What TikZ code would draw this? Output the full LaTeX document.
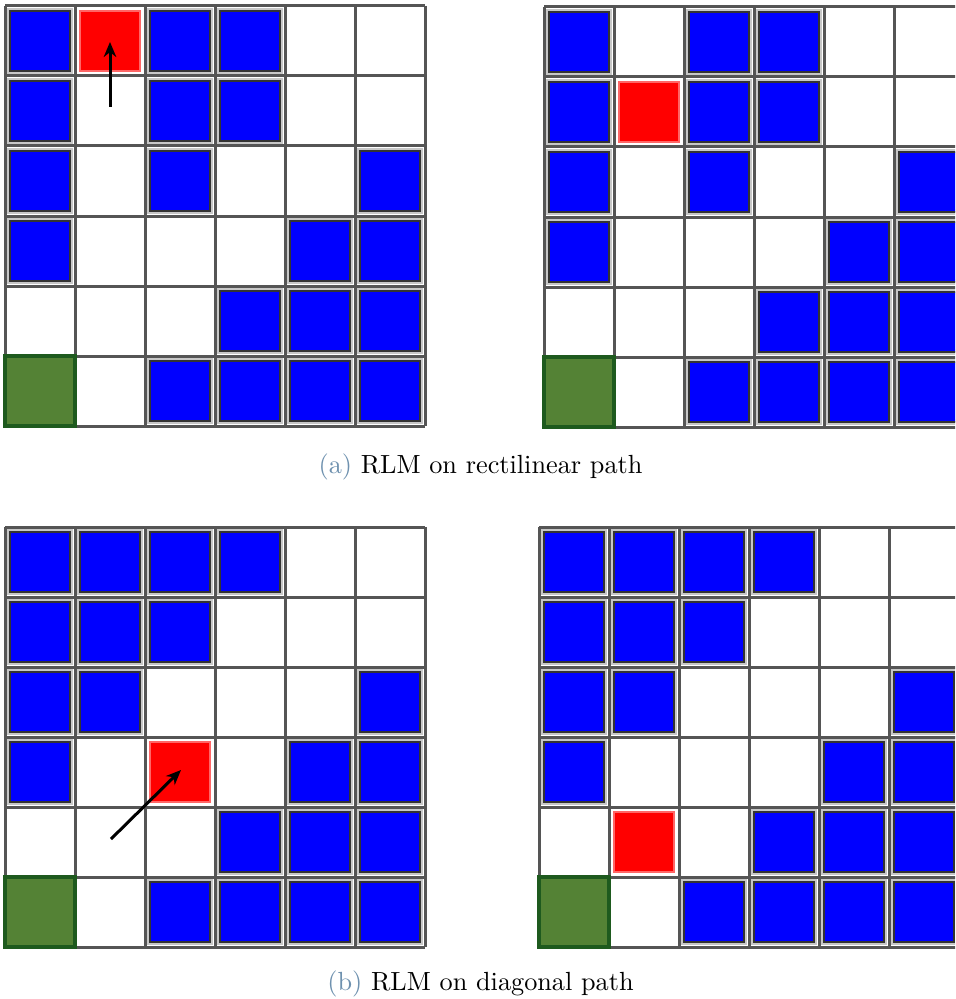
\documentclass[tikz,border=0pt]{standalone}
\usetikzlibrary{arrows.meta}
\definecolor{cellblue}{RGB}{0,0,255}
\definecolor{cellred}{RGB}{255,0,0}
\definecolor{cellgreen}{RGB}{84,130,53}
\definecolor{greenedge}{RGB}{30,90,30}
\definecolor{gridgray}{RGB}{85,85,85}
\definecolor{capblue}{RGB}{110,145,175}
\tikzset{
  gridline/.style={draw=gridgray, line width=1.2},
  bluebox/.style={fill=cellblue, draw=black!80, line width=1.0},
  bluehalo/.style={draw=black!22, line width=2.6},
  redbox/.style={fill=cellred, draw=cellred!60!white, line width=0.5},
  greenbox/.style={fill=cellgreen, draw=greenedge, line width=1.4},
  movearrow/.style={draw=black, line width=1.2pt, -{Stealth[length=6pt, width=5pt]}},
  captext/.style={font=\fontsize{10.5}{12}\selectfont, anchor=base}
}
% #1,#2 = top-left corner of grid (px); #3 = blue cell list c/r; #4 red col; #5 red row
\newcommand\drawmapgrid[5]{%
  \foreach \k in {0,...,6}{
    \draw[gridline] ({#1+70*\k},{#2}) -- ({#1+70*\k},{#2+420});
    \draw[gridline] ({#1},{#2+70*\k}) -- ({#1+420},{#2+70*\k});
  }
  \foreach \c/\r in {#3}{
    \draw[bluehalo] ({#1+70*\c+5},{#2+70*\r+5}) rectangle ({#1+70*\c+65},{#2+70*\r+65});
    \draw[bluebox] ({#1+70*\c+5},{#2+70*\r+5}) rectangle ({#1+70*\c+65},{#2+70*\r+65});
  }
  \draw[redbox] ({#1+70*#4+5},{#2+70*#5+5}) rectangle ({#1+70*#4+65},{#2+70*#5+65});
  \draw[greenbox] ({#1},{#2+350}) rectangle ({#1+70},{#2+420});
}
\begin{document}
\begin{tikzpicture}[x=0.4pt, y=-0.4pt]
\useasboundingbox (0,0) rectangle (955,999);
\clip (0,0) rectangle (955,999);
\fill[white] (0,0) rectangle (955,999);
% (a) rectilinear
\drawmapgrid{5}{6}{0/0,2/0,3/0,0/1,2/1,3/1,0/2,2/2,5/2,0/3,4/3,5/3,3/4,4/4,5/4,2/5,3/5,4/5,5/5}{1}{0}
\drawmapgrid{544}{7}{0/0,2/0,3/0,0/1,2/1,3/1,0/2,2/2,5/2,0/3,4/3,5/3,3/4,4/4,5/4,2/5,3/5,4/5,5/5}{1}{1}
% (b) diagonal
\drawmapgrid{5}{527}{0/0,1/0,2/0,3/0,0/1,1/1,2/1,0/2,1/2,5/2,0/3,4/3,5/3,3/4,4/4,5/4,2/5,3/5,4/5,5/5}{2}{3}
\drawmapgrid{539}{527}{0/0,1/0,2/0,3/0,0/1,1/1,2/1,0/2,1/2,5/2,0/3,4/3,5/3,3/4,4/4,5/4,2/5,3/5,4/5,5/5}{1}{4}
% arrows
\coordinate (a1) at (110,107);
\coordinate (a2) at (110,42);
\draw[movearrow] (a1) -- (a2);
\coordinate (b1) at (111,839);
\coordinate (b2) at (181,770);
\draw[movearrow] (b1) -- (b2);
% captions
\node[captext] (capa) at (480.5,473) {\textcolor{capblue}{(a)} RLM on rectilinear path};
\node[captext] (capb) at (480.5,990) {\textcolor{capblue}{(b)} RLM on diagonal path};
\end{tikzpicture}
\end{document}
